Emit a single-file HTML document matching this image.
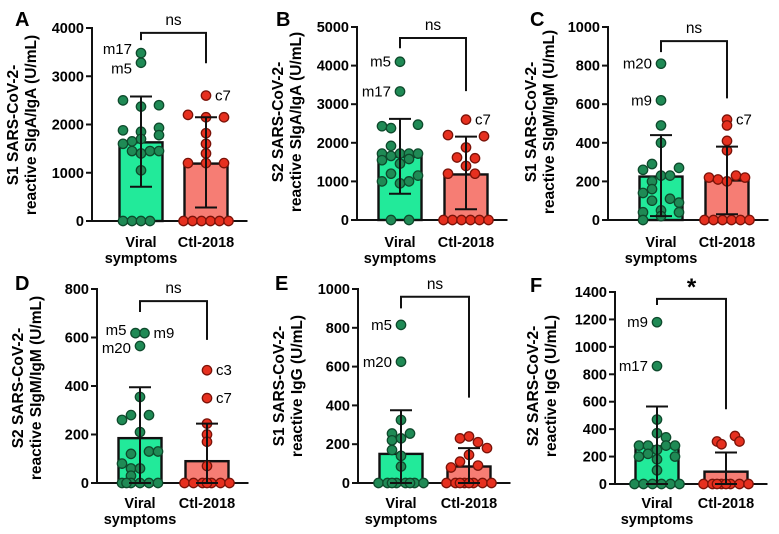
<!DOCTYPE html>
<html><head><meta charset="utf-8"><style>
html,body{margin:0;padding:0;background:#fff;}
svg{display:block;font-family:"Liberation Sans",Arial,sans-serif;}
</style></head><body>
<svg id="chart" width="779" height="534" viewBox="0 0 779 534"></svg>
<script>
// ---- data (values in U/mL) ----
const categories = ["Viral symptoms", "Ctl-2018"];
const aGreen = [3480,3280,2500,2370,2400,1880,1850,1930,1780,1650,1700,1600,1450,1400,1450,1450,1050,0,0,0,0];
const aGreenCol = [0,0,-2,0,2,-2,0,2,2,-1,0,-2,-1,0,1,2,0,-2,-1,0,1];
const aRed = [2600,2200,2150,2150,1820,1600,1400,1200,1200,1200,0,0,0,0,0,0];
const aRedCol = [0,-2,0,2,0,0,0,-2,0,2,-2.5,-1.5,-0.5,0.5,1.5,2.5];
const bGreen = [4100,3330,2430,2380,2470,1920,1720,1660,1720,1720,1720,1550,1460,1580,1200,1150,1000,950,1000,0,0];
const bGreenCol = [0,0,-2,-1,2,-1,-2,-1,0,1,2,-2,0,1,-1,2,-2,0,1,-1,1];
const bRed = [2600,2200,2170,1880,1620,1600,1400,1200,1200,0,0,0,0,0,0];
const bRedCol = [0,-2,2,0,-1,1,0,-2,1,-2.5,-1.5,-0.5,0.5,1.5,2.5];
const cGreen = [810,620,490,400,290,270,260,230,230,200,160,140,100,110,90,50,40,40,20,0];
const cGreenCol = [0,0,0,0,-1,2,-2,0,1,-1,-1,-2,-1,1,2,0,-2,2,0,-2];
const cRed = [520,490,410,360,220,210,230,220,200,0,0,0,0,0,0];
const cRedCol = [0,0,0,0,-2,-1,1,2,0,-2.5,-1.5,-0.5,0.5,1.5,2.5];
const dGreen = [618,618,565,355,280,280,260,210,130,130,120,80,60,60,30,0,0,0,0,0,0];
const dGreenCol = [-0.5,0.5,0,0,-1,1,-2,0,1,2,-1,-2,-1,0,-1,-2,-1,0,1,2,-1.5];
const dRed = [465,350,245,200,170,70,0,0,0,0,0,0,0];
const dRedCol = [0,0,0,0,0,0,-2.5,-1.5,-0.5,0.5,1.5,2.5,0];
const eGreen = [815,625,325,255,255,220,230,170,140,85,0,0,0,0,0,0,0,0];
const eGreenCol = [0,0,0,-1,1,-1,0,-1,0,0,-2.5,-1.5,-0.5,0.5,1.5,2.5,-1,1];
const eRed = [230,240,210,180,145,110,80,90,0,0,0,0,0,0,0,0];
const eRedCol = [-1,0,1,2,0,-1,-2,1,-2.5,-1.5,-0.5,0.5,1.5,2.5,0,-1];
const fGreen = [1180,860,470,370,340,280,280,280,280,250,220,200,200,180,100,0,0,0,0,0,0];
const fGreenCol = [0,0,0,0,1,-2,-1,1,2,0,-1,-2,2,0,0,-2.5,-1.5,-0.5,0.5,1.5,2.5];
const fRed = [350,310,310,290,0,0,0,0,0,0,0,0];
const fRedCol = [1,-1,1.5,-0.5,-2.5,-1.5,-0.5,0.5,1.5,2.5,0,-1];
const means = [[1630,1190],[1640,1180],[225,205],[185,90],[150,85],[275,90]];
const errLow = [[710,280],[680,280],[20,30],[0,0],[0,0],[0,0]];
const errHigh = [[2580,2150],[2620,2160],[440,380],[395,245],[375,180],[565,230]];
const yMaxes = [4000,5000,1000,800,1000,1400];
const yTicks = [[0,1000,2000,3000,4000],[0,1000,2000,3000,4000,5000],[0,200,400,600,800,1000],[0,200,400,600,800],[0,200,400,600,800,1000],[0,200,400,600,800,1000,1200,1400]];
const sigLabels = ["ns","ns","ns","ns","ns","*"];
const bracketTop = [3900,4715,927,750,960,1350];
const bracketLeft = [3750,4450,870,705,900,1305];
const bracketRight = [3270,3340,630,590,440,545];
const letters = ["A","B","C","D","E","F"];
const titleLine1 = ["S1 SARS-CoV-2-","S2 SARS-CoV-2-","S1 SARS-CoV-2-","S2 SARS-CoV-2-","S1 SARS-CoV-2-","S2 SARS-CoV-2-"];
const titleLine2 = ["reactive SIgA/IgA (U/mL)","reactive SIgA/IgA (U/mL)","reactive SIgM/IgM (U/mL)","reactive SIgM/IgM (U/mL)","reactive IgG (U/mL)","reactive IgG (U/mL)"];
// annotations: [panel, group, pointIndex, text, side, dy]
const annots = [[0,0,0,"m17","L",-4],[0,0,1,"m5","L",6],[0,1,0,"c7","R",0],
 [1,0,0,"m5","L",0],[1,0,1,"m17","L",0],[1,1,0,"c7","R",0],
 [2,0,0,"m20","L",0],[2,0,1,"m9","L",0],[2,1,0,"c7","R",0],
 [3,0,0,"m5","L",-3],[3,0,1,"m9","R",0],[3,0,2,"m20","L",2],[3,1,0,"c3","R",0],[3,1,1,"c7","R",0],
 [4,0,0,"m5","L",0],[4,0,1,"m20","L",0],
 [5,0,0,"m9","L",0],[5,0,1,"m17","L",0]];

// ---- layout ----
const panels = [
 {ax:92,top:28,bot:221,g:141,r:206,lx:15,ly:26,tx:18,ty:125,xl:247},
 {ax:357,top:27,bot:220,g:400,r:466,lx:276,ly:26,tx:283,ty:122,xl:247},
 {ax:608,top:27,bot:220,g:661,r:727,lx:530,ly:26,tx:536,ty:122,xl:247},
 {ax:97,top:289,bot:483,g:140,r:207,lx:15,ly:290,tx:23,ty:388,xl:508},
 {ax:358,top:289,bot:483,g:401,r:469,lx:275,ly:290,tx:284,ty:386,xl:508},
 {ax:615,top:292,bot:484,g:657,r:726,lx:530,ly:292,tx:538,ty:386,xl:508}];
const groupData = [[aGreen,aGreenCol,aRed,aRedCol],[bGreen,bGreenCol,bRed,bRedCol],[cGreen,cGreenCol,cRed,cRedCol],[dGreen,dGreenCol,dRed,dRedCol],[eGreen,eGreenCol,eRed,eRedCol],[fGreen,fGreenCol,fRed,fRedCol]];

const NS="http://www.w3.org/2000/svg";
const svg=document.getElementById('chart');
function mk(tag,attrs,parent,text){const e=document.createElementNS(NS,tag);for(const k in attrs)e.setAttribute(k,attrs[k]);if(text!==undefined)e.textContent=text;(parent||svg).appendChild(e);return e;}

panels.forEach((p,i)=>{
  const g=mk('g',{});
  
  
  const y=v=>p.bot-(v/yMaxes[i])*(p.bot-p.top);
  const colW=9, barW=43;
  const L=mk('text',{x:p.lx,y:p.ly,'font-size':20,'font-weight':'bold'},g,letters[i]);
  
  
  const T=mk('text',{transform:`translate(${p.tx},${p.ty}) rotate(-90)`,'text-anchor':'middle','font-size':15.5,'font-weight':'bold'},g);
  
  
  mk('tspan',{x:0,y:0},T,titleLine1[i]);
  mk('tspan',{x:0,y:18},T,titleLine2[i]);
  const centers=[p.g,p.r], fills=['#22ea9a','#f67d74'], dotF=['#1f8a55','#e6301f'], dotS=['#0e4a2c','#7a1208'];
  [0,1].forEach(k=>{
    const b=mk('rect',{x:centers[k]-barW/2,y:y(means[i][k]),width:barW,height:p.bot-y(means[i][k]),fill:fills[k],stroke:'#111','stroke-width':2.4},g);
    
    
  });
  const ya=mk('line',{x1:p.ax,y1:p.top-1,x2:p.ax,y2:p.bot,stroke:'#111','stroke-width':2},g);
  
  
  const xa=mk('line',{x1:p.ax-1,y1:p.bot,x2:p.r+barW/2+20,y2:p.bot,stroke:'#111','stroke-width':2},g);
  
  
  yTicks[i].forEach(t=>{
    mk('line',{x1:p.ax-6,y1:y(t),x2:p.ax,y2:y(t),stroke:'#111','stroke-width':2},g);
    const tl=mk('text',{x:p.ax-8,y:y(t)+5,'text-anchor':'end','font-size':14.5,'font-weight':'bold'},g,String(t));
    
    
  });
  [0,1].forEach(k=>{
    const vals=groupData[i][k*2], cols=groupData[i][k*2+1];
    vals.forEach((v,j)=>{
      const c=mk('circle',{cx:centers[k]+cols[j]*colW,cy:y(v),r:4.7,fill:dotF[k],stroke:dotS[k],'stroke-width':1.3},g);
      
      
    });
  });
  [0,1].forEach(k=>{
    const cx=centers[k];
    mk('line',{x1:cx,y1:y(errLow[i][k]),x2:cx,y2:y(errHigh[i][k]),stroke:'#111','stroke-width':2},g);
    [errLow[i][k],errHigh[i][k]].forEach(v=>mk('line',{x1:cx-11,y1:y(v),x2:cx+11,y2:y(v),stroke:'#111','stroke-width':2},g));
  });
  const br=mk('polyline',{points:`${p.g},${y(bracketLeft[i])} ${p.g},${y(bracketTop[i])} ${p.r},${y(bracketTop[i])} ${p.r},${y(bracketRight[i])}`,fill:'none',stroke:'#111','stroke-width':2},g);
  
  
  const sl=mk('text',{x:(p.g+p.r)/2,y:sigLabels[i]==='*'?y(bracketTop[i])-4:y(bracketTop[i])-8,'text-anchor':'middle','font-size':sigLabels[i]==='*'?24:15.5,'font-weight':sigLabels[i]==='*'?'bold':'normal'},g,sigLabels[i]);
  
  
  const x1=mk('text',{x:p.g,y:p.xl,'text-anchor':'middle','font-size':14.5,'font-weight':'bold'},g,'Viral');
  
  
  mk('text',{x:p.g,y:p.xl+16,'text-anchor':'middle','font-size':14.5,'font-weight':'bold'},g,'symptoms');
  const x2=mk('text',{x:p.r,y:p.xl,'text-anchor':'middle','font-size':14.5,'font-weight':'bold'},g,'Ctl-2018');
  
  
});
annots.forEach(a=>{
  const p=panels[a[0]], i=a[0];
  const vals=groupData[i][a[1]*2], cols=groupData[i][a[1]*2+1];
  const cx=(a[1]?p.r:p.g)+cols[a[2]]*9;
  const cy=p.bot-(vals[a[2]]/yMaxes[i])*(p.bot-p.top);
  const t=mk('text',{x:a[4]==='L'?cx-9:cx+9,y:cy+5+a[5],'text-anchor':a[4]==='L'?'end':'start','font-size':15},svg,a[3]);
  
  
});
</script>
</body></html>
